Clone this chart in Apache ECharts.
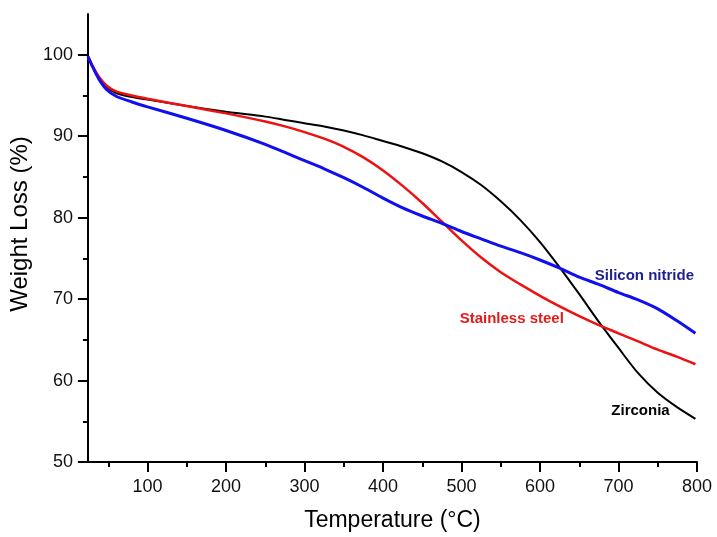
<!DOCTYPE html>
<html>
<head>
<meta charset="utf-8">
<title>TGA curves</title>
<script src="https://cdn.jsdelivr.net/npm/echarts@6/dist/echarts.min.js"></script>
<style>
  html, body { margin: 0; padding: 0; background: #fff; }
  #myChart { width: 717px; height: 537px; }
</style>
</head>
<body>
<div id="myChart"></div>
<script>
// temperature points (°C) shared by all three curves
const temps = [24, 30, 38, 48, 60, 80, 100, 150, 200, 250, 275, 300, 325, 350, 375, 400, 425, 450, 475, 500, 525, 550, 575, 600, 625, 650, 675, 700, 725, 750, 775, 798]
// weight loss (%)
const zirconia = [99.8, 98.6, 97.2, 96.0, 95.3, 94.8, 94.5, 93.7, 93.0, 92.4, 92.0, 91.6, 91.2, 90.7, 90.1, 89.4, 88.7, 87.9, 86.9, 85.6, 84.0, 82.0, 79.7, 77.0, 73.9, 70.6, 67.2, 64.0, 60.9, 58.5, 56.7, 55.3]
const stainless = [99.8, 98.6, 97.3, 96.2, 95.5, 95.0, 94.6, 93.7, 92.8, 91.8, 91.2, 90.5, 89.7, 88.7, 87.4, 85.8, 83.9, 81.8, 79.5, 77.2, 75.1, 73.3, 71.8, 70.4, 69.1, 67.9, 66.8, 65.8, 64.8, 63.8, 62.9, 62.0]
const siliconNitride = [99.8, 98.5, 97.0, 95.7, 94.9, 94.2, 93.6, 92.2, 90.7, 89.0, 88.0, 87.0, 86.0, 84.9, 83.7, 82.4, 81.2, 80.2, 79.3, 78.3, 77.4, 76.5, 75.7, 74.8, 73.8, 72.7, 71.8, 70.8, 69.9, 68.8, 67.3, 65.8]
// tick labels
const xMajor = [100, 200, 300, 400, 500, 600, 700, 800]
const xMinor = [50, 150, 250, 350, 450, 550, 650, 750]
const yMajor = [50, 60, 70, 80, 90, 100]
const yMinor = [55, 65, 75, 85, 95]

const font = '"Liberation Sans", Arial, sans-serif'

function pairs (ys) {
  return temps.map((t, i) => [t, ys[i]])
}

// base axis settings, cloned for major / minor axes
function baseAxis (min, max) {
  return {
    type: 'value',
    min: min,
    max: max,
    splitLine: { show: false },
    axisLine: { show: true, lineStyle: { color: '#000', width: 2 } },
    axisTick: { show: true, inside: false, length: 10, lineStyle: { color: '#000', width: 2 } },
    axisLabel: { show: true, color: '#111', fontSize: 18, fontFamily: font }
  }
}

const x0 = baseAxis(24, 800)
x0.position = 'bottom'
x0.axisTick.customValues = xMajor
x0.axisLabel.customValues = xMajor
x0.axisLabel.margin = 16
x0.name = 'Temperature (°C)'
x0.nameLocation = 'middle'
x0.nameGap = 47
x0.nameTextStyle = { color: '#000', fontSize: 23, fontFamily: font }

const x1 = baseAxis(24, 800)
x1.position = 'bottom'
x1.axisLine.show = false
x1.axisLabel.show = false
x1.axisTick.length = 5
x1.axisTick.customValues = xMinor

const y0 = baseAxis(50, 105)
y0.position = 'left'
y0.axisTick.customValues = yMajor
y0.axisLabel.customValues = yMajor
y0.axisLabel.margin = 15
y0.name = 'Weight Loss (%)'
y0.nameLocation = 'middle'
y0.nameGap = 49
y0.nameTextStyle = { color: '#000', fontSize: 24, fontFamily: font, padding: [0, 0, 0, 28] }

const y1 = baseAxis(50, 105)
y1.position = 'left'
y1.axisLine.show = false
y1.axisLabel.show = false
y1.axisTick.length = 5
y1.axisTick.customValues = yMinor

function line (name, ys, color, width) {
  return {
    name: name,
    type: 'line',
    xAxisIndex: 0,
    yAxisIndex: 0,
    data: pairs(ys),
    smooth: 0.3,
    showSymbol: false,
    lineStyle: { color: color, width: width }
  }
}

// curve name written next to its curve, placed in data coordinates
function curveLabel (text, coord, color) {
  return {
    type: 'scatter',
    xAxisIndex: 0,
    yAxisIndex: 0,
    silent: true,
    symbolSize: 1,
    itemStyle: { color: 'rgba(0,0,0,0)', opacity: 1 },
    label: { show: true, position: 'inside', formatter: text, color: color, fontSize: 15, fontWeight: 'bold', fontFamily: font },
    data: [coord]
  }
}

const option = {
  animation: false,
  backgroundColor: '#fff',
  grid: { left: 87, right: 20, top: 14, bottom: 72, containLabel: false },
  xAxis: [x0, x1],
  yAxis: [y0, y1],
  series: [
    line('Zirconia', zirconia, '#000000', 2),
    line('Stainless steel', stainless, '#ee1111', 2.5),
    line('Silicon nitride', siliconNitride, '#1010ee', 3),
    curveLabel('Zirconia', [728, 56.3], '#000'),
    curveLabel('Stainless steel', [564, 67.6], '#e31b1b'),
    curveLabel('Silicon nitride', [733, 72.9], '#1e1e90')
  ]
}

const chart = echarts.init(document.getElementById('myChart'))
chart.setOption(option, true)
</script>
</body>
</html>
